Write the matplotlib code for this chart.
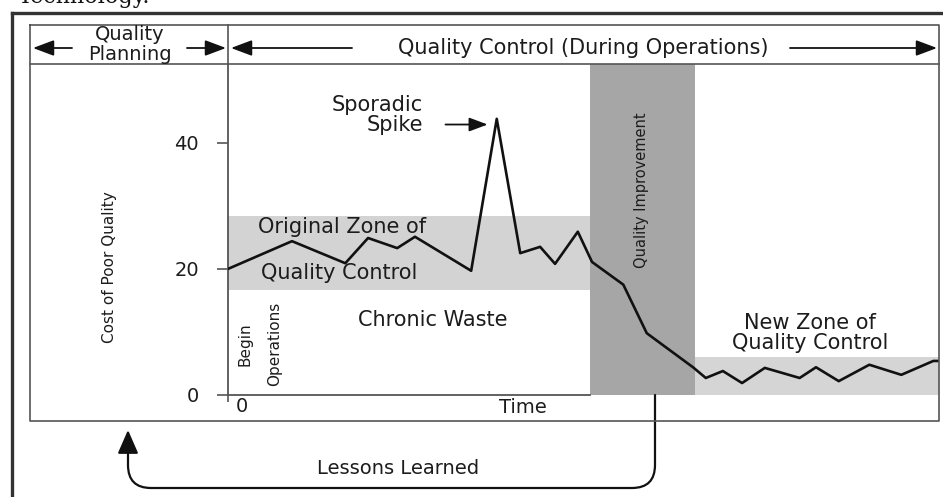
import matplotlib.pyplot as plt
from matplotlib.path import Path
from matplotlib.patches import FancyArrowPatch

# values (time in % of the window, cost in arbitrary units)
time = [0, 9.0, 16.5, 19.7, 23.8, 26.3, 34.2, 37.8, 41.1, 43.9, 46.0, 49.2, 51.2,
        55.6, 58.9, 65.4, 67.2, 69.6, 72.3, 75.5, 80.4, 82.7, 85.9, 90.2, 94.7, 99.2, 100]
cost = [20.0, 24.4, 20.9, 24.9, 23.3, 25.1, 19.7, 43.8, 22.5, 23.5, 20.8, 25.9, 21.1,
        17.5, 9.8, 4.4, 2.7, 3.8, 1.9, 4.3, 2.7, 4.4, 2.2, 4.8, 3.2, 5.4, 5.4]
original_zone = [16.7, 28.4]
new_zone = [0, 6.0]
improvement = [50.9, 65.7]
y_ticks = [0, 20, 40]

txt = '#1c1c1c'
plt.rcParams['font.family'] = ['DejaVu Sans']

fig = plt.figure(figsize=(9.43, 4.97), dpi=100)

ax = fig.add_axes([228 / 943, 102 / 497, 711 / 943, 331 / 497])
ax.set_facecolor('none')
ax.set_xlim(0, 100)
ax.set_ylim(0, 52.5)

ax.axhspan(original_zone[0], original_zone[1], xmin=0, xmax=improvement[0] / 100,
           color='#d3d3d3', lw=0, zorder=1)
ax.axvspan(improvement[0], improvement[1], color='#a6a6a6', lw=0, zorder=1)
ax.axhspan(new_zone[0], new_zone[1], xmin=improvement[1] / 100, xmax=1,
           color='#d5d5d5', lw=0, zorder=1)
ax.plot(time, cost, color='#111111', lw=1.9, zorder=3)

for s in ['top', 'right']:
    ax.spines[s].set_visible(False)
ax.spines['left'].set_color('#555555')
ax.spines['left'].set_linewidth(1.3)
ax.spines['bottom'].set_color('#555555')
ax.spines['bottom'].set_linewidth(1.3)
ax.spines['bottom'].set_bounds(0, improvement[0])
ax.set_yticks(y_ticks)
ax.set_yticklabels([str(v) for v in y_ticks])
ax.tick_params(axis='y', length=8, width=1.2, color='#555555', pad=13,
               labelsize=14, labelcolor=txt)
ax.set_xticks([0])
ax.set_xticklabels([''])
ax.tick_params(axis='x', length=5, width=1.2, color='#555555')

ax.set_ylabel('Cost of Poor Quality', fontsize=11, color=txt)
ax.yaxis.set_label_coords(-0.156, 0.387)

ax.text(1.1, -1.9, '0', ha='left', va='center', fontsize=14, color=txt)
ax.text(41.5, -2.0, 'Time', ha='center', va='center', fontsize=14, color=txt)

ax.text(16.0, 26.7, 'Original Zone of', ha='center', va='center', fontsize=15, color=txt, zorder=4)
ax.text(15.6, 19.4, 'Quality Control', ha='center', va='center', fontsize=15, color=txt, zorder=4)
ax.text(28.8, 11.9, 'Chronic Waste', ha='center', va='center', fontsize=15, color=txt)
ax.text(2.4, 8.1, 'Begin', rotation=90, ha='center', va='center', fontsize=11, color=txt)
ax.text(6.6, 8.1, 'Operations', rotation=90, ha='center', va='center', fontsize=11, color=txt)
ax.text(58.2, 32.5, 'Quality Improvement', rotation=90, ha='center', va='center',
        fontsize=10.5, color=txt, zorder=4)
ax.text(81.9, 11.4, 'New Zone of', ha='center', va='center', fontsize=15, color=txt)
ax.text(81.9, 8.3, 'Quality Control', ha='center', va='center', fontsize=15, color=txt)
ax.text(27.4, 46.0, 'Sporadic', ha='right', va='center', fontsize=15, color=txt)
ax.text(27.4, 42.9, 'Spike', ha='right', va='center', fontsize=15, color=txt)
ax.annotate('', xy=(36.9, 42.9), xytext=(30.2, 42.9),
            arrowprops=dict(arrowstyle='-|>,head_length=0.8,head_width=0.3',
                            color='#111111', lw=1.3, mutation_scale=14))

# overlay in pixel coordinates for the frame, header and feedback loop
ov = fig.add_axes([0, 0, 1, 1], zorder=5)
ov.set_facecolor('none')
ov.set_xlim(0, 943)
ov.set_ylim(497, 0)
ov.axis('off')

ov.plot([12, 12], [13, 497], color='#333333', lw=2.4)
ov.plot([12, 943], [13, 13], color='#333333', lw=2.4)
ov.plot([30, 939, 939, 30, 30], [25, 25, 421, 421, 25], color='#555555', lw=1.2)
ov.plot([30, 939], [64, 64], color='#555555', lw=1.2)
ov.plot([228, 228], [25, 64], color='#555555', lw=1.2)

fig.text(18 / 943, 1 - 3 / 497, 'Technology.', family='DejaVu Serif', fontsize=16,
         va='baseline', color='#111111')

ov.text(130, 34, 'Quality', ha='center', va='center', fontsize=14, color=txt)
ov.text(130, 54, 'Planning', ha='center', va='center', fontsize=14, color=txt)
ov.text(583, 48, 'Quality Control (During Operations)', ha='center', va='center',
        fontsize=15, color=txt)
head = dict(arrowstyle='-|>,head_length=0.8,head_width=0.3', color='#111111',
            lw=1.3, mutation_scale=16, shrinkA=0, shrinkB=0)
for tail_x, tip_x in [(72, 33), (187, 226), (352, 231), (790, 937)]:
    ov.annotate('', xy=(tip_x, 48), xytext=(tail_x, 48), arrowprops=head)

loop = Path([(655, 395), (655, 465), (655, 488), (632, 488), (151, 488),
             (128, 488), (128, 465), (128, 430)],
            [Path.MOVETO, Path.LINETO, Path.CURVE3, Path.CURVE3, Path.LINETO,
             Path.CURVE3, Path.CURVE3, Path.LINETO])
ov.add_patch(FancyArrowPatch(path=loop, arrowstyle='-|>,head_length=0.8,head_width=0.35',
                             color='#111111', lw=1.6, mutation_scale=18))
ov.text(398, 468, 'Lessons Learned', ha='center', va='center', fontsize=14, color=txt)

fig.savefig('out.png', dpi=100)
